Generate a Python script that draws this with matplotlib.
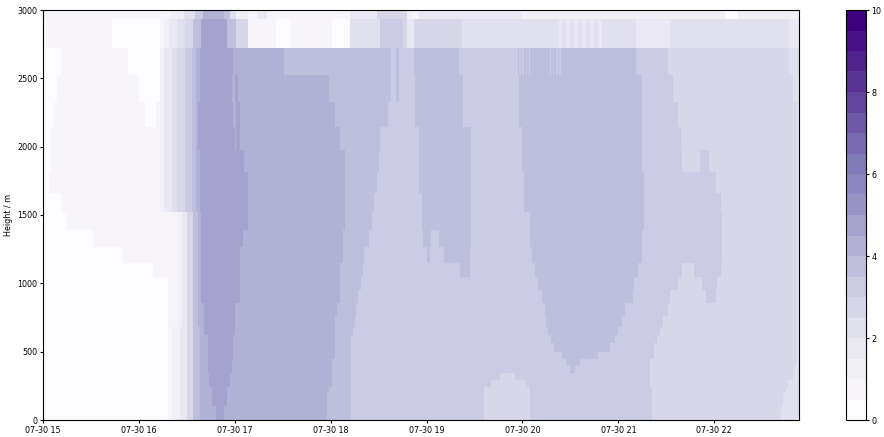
import numpy as np
import pandas as pd
import matplotlib
matplotlib.use("Agg")
import matplotlib.pyplot as plt
import matplotlib.dates as mdates
from matplotlib.colors import BoundaryNorm

# time axis: 1-minute columns, 15:00 .. 22:53
start = pd.Timestamp("2021-07-30 15:00")
n_minutes = 473

# height gate edges (m), bottom to top
height_edges = [0, 50, 100, 150, 200, 245, 293, 341, 402, 444, 500, 561, 622,
                683, 763, 854, 951, 1049, 1151, 1268, 1390, 1520, 1659, 1813,
                1976, 2142, 2327, 2524, 2722, 2934, 3100]

# ramp-up of the leading edge around 16:15-16:40
low_ramp = [("16:18", .2), ("16:21", .7), ("16:26", 1.2), ("16:30", 1.7),
            ("16:34", 2.7), ("16:38", 3.7)]
mid_ramp = [("16:24", .7), ("16:27", 1.2), ("16:30", 1.7), ("16:34", 2.7),
            ("16:37", 3.7)]
upper_ramp = [("16:13", .7), ("16:16", 1.2), ("16:21", 1.7), ("16:24", 2.2),
              ("16:29", 2.7), ("16:33", 3.2), ("16:36", 3.7)]

# each gate: (segment end time, value), one list per height gate
gates = [
    low_ramp + [("16:48", 4.2), ("16:53", 4.7), ("17:58", 4.2), ("18:13", 3.7), ("19:36", 3.2),
                ("20:05", 2.7), ("21:21", 3.2), ("22:42", 2.7), ("22:53", 2.2)],
    low_ramp + [("16:48", 4.2), ("16:53", 4.7), ("17:58", 4.2), ("18:13", 3.7), ("19:36", 3.2),
                ("20:05", 2.7), ("21:21", 3.2), ("22:42", 2.7), ("22:53", 2.2)],
    low_ramp + [("16:46", 4.2), ("16:55", 4.7), ("17:58", 4.2), ("18:13", 3.7), ("19:36", 3.2),
                ("20:05", 2.7), ("21:21", 3.2), ("22:43", 2.7), ("22:53", 2.2)],
    low_ramp + [("16:46", 4.2), ("16:55", 4.7), ("17:58", 4.2), ("18:13", 3.7), ("19:36", 3.2),
                ("20:05", 2.7), ("21:21", 3.2), ("22:43", 2.7), ("22:53", 2.2)],
    low_ramp + [("16:46", 4.2), ("16:55", 4.7), ("17:59", 4.2), ("18:13", 3.7), ("19:36", 3.2),
                ("20:05", 2.7), ("21:21", 3.2), ("22:45", 2.7), ("22:53", 2.2)],
    low_ramp + [("16:44", 4.2), ("16:57", 4.7), ("18:01", 4.2), ("18:13", 3.7), ("19:40", 3.2),
                ("20:02", 2.7), ("21:20", 3.2), ("22:46", 2.7), ("22:53", 2.2)],
    low_ramp + [("16:44", 4.2), ("16:57", 4.7), ("18:01", 4.2), ("18:13", 3.7), ("19:46", 3.2),
                ("19:55", 2.7), ("21:20", 3.2), ("22:49", 2.7), ("22:53", 2.2)],
    low_ramp + [("16:43", 4.2), ("16:58", 4.7), ("18:01", 4.2), ("18:13", 3.7), ("20:30", 3.2),
                ("20:33", 3.7), ("21:20", 3.2), ("22:50", 2.7), ("22:53", 2.2)],
    low_ramp + [("16:43", 4.2), ("16:58", 4.7), ("18:01", 4.2), ("18:13", 3.7), ("20:27", 3.2),
                ("20:36", 3.7), ("21:20", 3.2), ("22:52", 2.7), ("22:53", 2.2)],
    low_ramp + [("16:43", 4.2), ("16:59", 4.7), ("18:03", 4.2), ("18:13", 3.7), ("20:25", 3.2),
                ("20:47", 3.7), ("21:22", 3.2), ("22:52", 2.7), ("22:53", 2.2)],
    low_ramp + [("16:43", 4.2), ("16:59", 4.7), ("18:03", 4.2), ("18:13", 3.7), ("20:20", 3.2),
                ("20:55", 3.7), ("21:22", 3.2), ("22:52", 2.7), ("22:53", 2.2)],
    low_ramp + [("16:43", 4.2), ("16:59", 4.7), ("18:03", 4.2), ("18:13", 3.7), ("20:18", 3.2),
                ("20:58", 3.7), ("21:24", 3.2), ("22:52", 2.7), ("22:53", 2.2)],
    low_ramp + [("16:41", 4.2), ("17:00", 4.7), ("18:03", 4.2), ("18:14", 3.7), ("20:16", 3.2),
                ("21:00", 3.7), ("21:26", 3.2), ("22:52", 2.7), ("22:53", 2.2)],
    [("16:18", .2)] + mid_ramp + [("16:41", 4.2), ("17:00", 4.7), ("18:03", 4.2), ("18:15", 3.7),
                                  ("20:15", 3.2), ("21:02", 3.7), ("21:28", 3.2), ("22:52", 2.7),
                                  ("22:53", 2.2)],
    [("16:18", .2)] + mid_ramp + [("16:41", 4.2), ("17:00", 4.7), ("18:04", 4.2), ("18:16", 3.7),
                                  ("20:14", 3.2), ("21:04", 3.7), ("21:31", 3.2), ("22:52", 2.7),
                                  ("22:53", 2.2)],
    [("16:18", .2)] + mid_ramp + [("16:39", 4.2), ("17:03", 4.7), ("18:06", 4.2), ("18:17", 3.7),
                                  ("20:12", 3.2), ("21:09", 3.7), ("21:32", 3.2), ("21:55", 2.7),
                                  ("22:01", 3.2), ("22:52", 2.7), ("22:53", 2.2)],
    [("16:18", .2)] + mid_ramp + [("16:39", 4.2), ("17:03", 4.7), ("18:06", 4.2), ("18:19", 3.7),
                                  ("20:10", 3.2), ("21:10", 3.7), ("21:37", 3.2), ("21:52", 2.7),
                                  ("22:02", 3.2), ("22:52", 2.7), ("22:53", 2.2)],
    [("16:09", .2)] + mid_ramp + [("16:39", 4.2), ("17:03", 4.7), ("18:06", 4.2), ("18:20", 3.7),
                                  ("19:21", 3.2), ("19:27", 3.7), ("20:08", 3.2), ("21:12", 3.7),
                                  ("21:40", 3.2), ("21:47", 2.7), ("22:04", 3.2), ("22:52", 2.7),
                                  ("22:53", 2.2)],
    [("15:50", .2)] + mid_ramp + [("16:39", 4.2), ("17:03", 4.7), ("18:08", 4.2), ("18:21", 3.7),
                                  ("19:00", 3.2), ("19:02", 3.7), ("19:11", 3.2), ("19:27", 3.7),
                                  ("20:06", 3.2), ("21:15", 3.7), ("22:05", 3.2), ("22:52", 2.7),
                                  ("22:53", 2.2)],
    [("15:31", .2)] + mid_ramp + [("16:39", 4.2), ("17:05", 4.7), ("18:08", 4.2), ("18:24", 3.7),
                                  ("18:58", 3.2), ("19:03", 3.7), ("19:08", 3.2), ("19:28", 3.7),
                                  ("20:05", 3.2), ("21:15", 3.7), ("22:05", 3.2), ("22:52", 2.7),
                                  ("22:53", 2.2)],
    [("15:15", .2)] + mid_ramp + [("16:39", 4.2), ("17:08", 4.7), ("18:09", 4.2), ("18:26", 3.7),
                                  ("18:57", 3.2), ("19:28", 3.7), ("20:05", 3.2), ("21:16", 3.7),
                                  ("22:05", 3.2), ("22:52", 2.7), ("22:53", 2.2)],
    [("15:12", .2)] + upper_ramp + [("16:38", 4.2), ("17:08", 4.7), ("18:09", 4.2), ("18:27", 3.7),
                                    ("18:57", 3.2), ("19:28", 3.7), ("20:01", 3.2), ("21:16", 3.7),
                                    ("22:04", 3.2), ("22:52", 2.7), ("22:53", 2.2)],
    [("15:04", .2)] + upper_ramp + [("16:38", 4.2), ("17:08", 4.7), ("18:09", 4.2), ("18:29", 3.7),
                                    ("18:55", 3.2), ("19:28", 3.7), ("20:01", 3.2), ("21:16", 3.7),
                                    ("22:01", 3.2), ("22:52", 2.7), ("22:53", 2.2)],
    [("15:05", .2)] + upper_ramp + [("16:38", 4.2), ("17:06", 4.7), ("18:09", 4.2), ("18:30", 3.7),
                                    ("18:55", 3.2), ("19:28", 3.7), ("20:00", 3.2), ("21:15", 3.7),
                                    ("21:40", 3.2), ("21:51", 2.7), ("21:57", 3.2), ("22:52", 2.7),
                                    ("22:53", 2.2)],
    [("15:05", .2)] + upper_ramp + [("16:37", 4.2), ("17:00", 4.7), ("17:01", 4.2), ("17:03", 4.7),
                                    ("18:06", 4.2), ("18:31", 3.7), ("18:55", 3.2), ("19:28", 3.7),
                                    ("20:00", 3.2), ("21:15", 3.7), ("21:39", 3.2), ("22:52", 2.7),
                                    ("22:53", 2.2)],
    [("15:07", .2), ("16:04", .7), ("16:11", .2)] + upper_ramp +
    [("16:37", 4.2), ("16:59", 4.7), ("17:01", 4.2), ("17:03", 4.7), ("18:03", 4.2), ("18:36", 3.7),
     ("18:53", 3.2), ("19:23", 3.7), ("19:58", 3.2), ("21:15", 3.7), ("21:37", 3.2), ("22:52", 2.7),
     ("22:53", 2.2)],
    [("15:09", .2), ("16:00", .7), ("16:13", .2)] + upper_ramp +
    [("16:38", 4.2), ("16:58", 4.7), ("17:00", 4.2), ("17:02", 4.7), ("17:59", 4.2), ("18:38", 3.7),
     ("18:41", 3.2), ("18:43", 3.7), ("18:53", 3.2), ("19:23", 3.7), ("19:58", 3.2), ("21:15", 3.7),
     ("21:34", 3.2), ("22:49", 2.7), ("22:53", 2.2)],
    [("15:11", .2), ("15:53", .7), ("16:13", .2)] + upper_ramp +
    [("16:38", 4.2), ("16:59", 4.7), ("17:31", 4.2), ("18:38", 3.7), ("18:41", 3.2), ("18:43", 3.7),
     ("18:52", 3.2), ("19:20", 3.7), ("19:57", 3.2), ("19:58", 3.7), ("19:59", 3.2), ("20:00", 3.7),
     ("20:01", 3.2), ("20:02", 3.7), ("20:03", 3.2), ("20:04", 3.7), ("20:05", 3.2), ("20:17", 3.7),
     ("20:18", 3.2), ("20:19", 3.7), ("20:20", 3.2), ("20:21", 3.7), ("20:22", 3.2), ("20:23", 3.7),
     ("20:24", 3.2), ("21:11", 3.7), ("21:31", 3.2), ("22:47", 2.7), ("22:53", 2.2)],
    [("15:02", .2), ("15:43", .7), ("16:13", .2), ("16:16", .7), ("16:19", 1.2), ("16:24", 1.7),
     ("16:29", 2.2), ("16:34", 2.7), ("16:39", 3.7), ("16:55", 4.7), ("17:01", 3.7), ("17:08", 2.7),
     ("17:26", .7), ("17:35", .2), ("18:01", .7), ("18:12", .2), ("18:31", 2.2), ("18:45", 3.2),
     ("18:48", 2.7), ("18:52", 1.7), ("19:22", 2.7), ("20:23", 2.2), ("20:25", 1.7), ("20:27", 2.2),
     ("20:30", 1.7), ("20:32", 2.2), ("20:35", 1.7), ("20:37", 2.2), ("20:40", 1.7), ("20:42", 2.2),
     ("20:45", 1.7), ("20:47", 2.2), ("20:50", 1.7), ("21:11", 2.2), ("21:32", 1.7), ("22:47", 2.2),
     ("22:53", 1.7)],
    [("16:20", .7), ("16:28", 1.2), ("16:35", 2.2), ("16:40", 3.2), ("16:53", 4.2), ("16:57", 3.7),
     ("17:01", 2.2), ("17:08", 1.2), ("17:14", .7), ("17:20", 1.7), ("18:12", .7), ("18:29", 1.7),
     ("18:48", 2.7), ("18:51", 1.2), ("18:55", .7), ("20:00", 1.7), ("22:07", 1.2), ("22:15", .2),
     ("22:53", 1.2)],
]

levels = np.arange(0, 10.5, 0.5)


def minutes(hhmm):
    h, m = hhmm.split(":")
    return (int(h) - 15) * 60 + int(m)


# fill the (height x time) grid from the per-gate segments
centers = np.arange(n_minutes) + 0.5
Z = np.zeros((len(gates), n_minutes))
for i, segs in enumerate(gates):
    ends = np.array([minutes(t) for t, _ in segs])
    vals = np.array([v for _, v in segs])
    k = np.searchsorted(ends, centers, side="right")
    Z[i] = vals[np.clip(k, 0, len(vals) - 1)]

t_edges = pd.date_range(start, periods=n_minutes + 1, freq="1min")
x_edges = mdates.date2num(t_edges.to_pydatetime())

fig = plt.figure(figsize=(8.84, 4.37), dpi=100)
ax = fig.add_axes([43 / 884, 17 / 437, 756 / 884, 410 / 437])
cax = fig.add_axes([846 / 884, 17 / 437, 20 / 884, 410 / 437])

norm = BoundaryNorm(levels, ncolors=256)
mesh = ax.pcolormesh(x_edges, height_edges, Z, cmap="Purples", norm=norm)

ax.set_xlim(x_edges[0], x_edges[-1])
ax.set_ylim(0, 3000)
ax.xaxis.set_major_locator(mdates.HourLocator())
ax.xaxis.set_major_formatter(mdates.DateFormatter("%m-%d %H"))
ax.set_yticks(np.arange(0, 3001, 500))
ax.set_ylabel("Height / m", fontsize=5.8, labelpad=3)
ax.tick_params(labelsize=5.8, length=2.5, pad=1.5)

cb = fig.colorbar(mesh, cax=cax, ticks=[0, 2, 4, 6, 8, 10])
cb.minorticks_off()
cb.ax.tick_params(labelsize=5.8, length=2.5, pad=1.5)

fig.savefig("out.png", dpi=100)
